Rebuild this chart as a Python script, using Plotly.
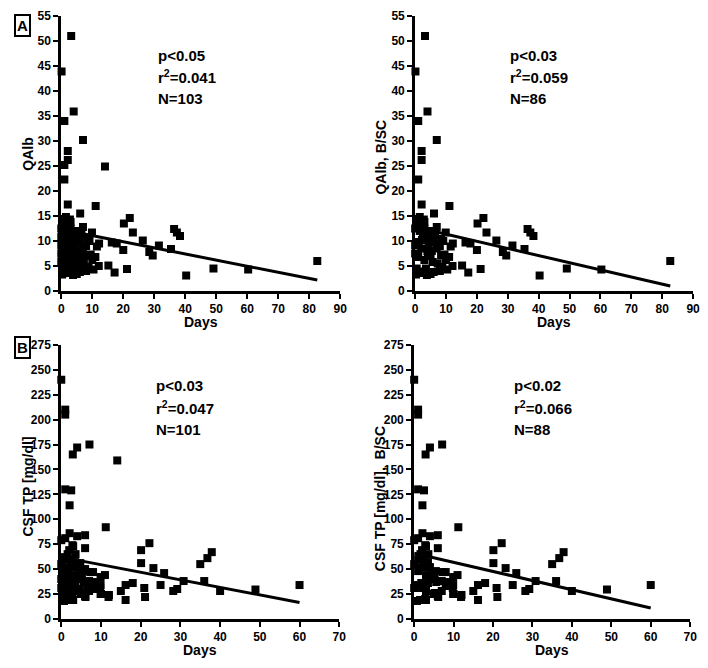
import plotly.graph_objects as go

# ---------------- DATA ----------------
# Panel A left: QAlb vs Days (N=103)
a1_days = [3.2, 0.1, 1, 4, 7, 2.1, 2.1, 1, 1, 14.1, 2.1, 11.1, 6.1, 0.3, 2, 3, 7, 20.2, 22.1, 23.1,
           26.3, 28.4, 29.5, 31.5, 35.4, 36.4, 37.3, 38.3, 40.3, 49.1, 60.3, 82.6, 12.2, 9.9, 8.4, 16.3, 17.9, 20, 15.2, 17.2,
           21.2, 12.1, 8.4, 10, 11, 8.8, 10.4, 5, 2.5, 1.5, 7.3, 5.7, 4.1, 5.4, 4.4, 1.5, 2.5, 9.1, 0, 0,
           0, 0, 0, 0.5, 0.5, 0.8, 1, 1, 1.2, 1.5, 1.5, 2, 2, 2.2, 2.5, 3, 3, 3, 3.5, 3.5,
           4, 4, 4.5, 5, 5, 5.5, 6, 6, 6.5, 7, 7.5, 8, 8, 6, 3.8, 0.3, 1.8, 2.8, 9.5, 11.5,
           1.2, 0.6, 3.2]
a1_qalb = [51, 43.9, 34, 35.9, 30.2, 28, 26.2, 25.2, 22.3, 24.9, 17.3, 17, 15.5, 14.4, 14.2, 13.8, 12.8, 13.5, 14.6, 11.7,
           10.1, 7.8, 7.1, 9.1, 8.4, 12.4, 11.7, 11, 3.1, 4.5, 4.3, 6, 9.5, 11.7, 10.4, 9.7, 9.5, 8.2, 5.1, 3.7,
           4.4, 5, 7.1, 6.2, 6.8, 4.8, 4.3, 3.4, 3.6, 3.9, 5.5, 5.8, 7.1, 8, 9.1, 12, 11, 10, 12.5, 10.8,
           9.2, 7.5, 5.8, 4.5, 8.5, 13.5, 11, 7, 9.8, 6, 14.8, 8.5, 5, 10.2, 7.5, 12.5, 6.2, 9.5, 4.5, 11.5,
           8, 5.5, 10.5, 7, 12, 4.2, 9.8, 6.5, 11.2, 8.5, 7, 4, 9, 3.8, 3.2, 3.3, 13, 14.3, 7.3, 8.9,
           4.8, 6.8, 8.8]

# Panel A right: QAlb, B/SC vs Days (N=86)
a2_days = [3.2, 0.1, 1, 4, 7, 2.1, 2.1, 1, 2.1, 11.1, 6.1, 0.3, 2, 3, 7, 20.2, 22.1, 23.1, 26.3, 28.4,
           29.5, 31.5, 35.4, 36.4, 37.3, 38.3, 40.3, 49.1, 60.3, 82.6, 12.2, 9.9, 8.4, 16.3, 17.9, 20, 15.2, 17.2, 21.2, 12.1,
           8.4, 10, 11, 8.8, 10.4, 5, 2.5, 1.5, 7.3, 5.7, 4.1, 5.4, 4.4, 1.5, 2.5, 9.1, 0, 0, 0, 0.5,
           0.8, 1, 1.2, 1.5, 2, 2.2, 3, 3, 3.5, 3.5, 4, 4.5, 5, 5, 6, 6.5, 7, 8, 8, 6,
           3.8, 0.3, 2.8, 9.5, 11.5, 0.6]
a2_qalb = [51, 43.9, 34, 35.9, 30.2, 28, 26.2, 22.3, 17.3, 17, 15.5, 14.4, 14.2, 13.8, 12.8, 13.5, 14.6, 11.7, 10.1, 7.8,
           7.1, 9.1, 8.4, 12.4, 11.7, 11, 3.1, 4.5, 4.3, 6, 9.5, 11.7, 10.4, 9.7, 9.5, 8.2, 5.1, 3.7, 4.4, 5,
           7.1, 6.2, 6.8, 4.8, 4.3, 3.4, 3.6, 3.9, 5.5, 5.8, 7.1, 8, 9.1, 12, 11, 10, 12.5, 9.2, 7.5, 4.5,
           13.5, 7, 9.8, 14.8, 8.5, 10.2, 12.5, 6.2, 4.5, 11.5, 8, 10.5, 7, 12, 9.8, 11.2, 8.5, 4, 9, 3.8,
           3.2, 3.3, 14.3, 7.3, 8.9, 6.8]

# Panel B left: CSF TP vs Days (N=101)
b1_days = [0, 1, 1, 2.9, 4, 7.1, 14.1, 1, 2.5, 2.1, 11.2, 0, 1, 2.1, 4, 6, 6, 3, 2, 20.1,
           22.2, 20.1, 23.2, 25.9, 25, 28.2, 29.2, 20.9, 21.1, 18, 16.2, 15, 16.2, 11, 12, 9.8, 10, 8.5, 8, 7.3,
           5.2, 5.6, 4, 4.4, 5.2, 6, 3, 1.5, 0.7, 0.7, 2, 0, 0, 1.5, 2.5, 3, 30.8, 35, 36.8, 37.9,
           36, 40, 48.9, 60, 2.8, 1.6, 3.6, 1, 0.3, 1.5, 8, 9.9, 7, 9.9, 9.9, 11.9, 4.9, 6.1, 2.8, 0.3,
           2.5, 0, 1, 2, 3.5, 4.5, 3.5, 6, 7, 2, 4, 1, 0.5, 2.5, 5.5, 8.8, 6.5, 3, 0.5, 1.8,
           4.8]
b1_tp = [240, 210, 205, 165, 172, 175, 159, 130, 129, 114, 92, 79, 81, 86, 83, 84, 71, 73, 69, 69,
         76, 56, 51, 46, 34, 28, 30, 31, 22, 36, 34, 28, 19, 44, 24, 31, 25, 37, 33, 47,
         44, 37, 52, 44, 26, 23, 19, 19, 18, 34, 31, 31, 55, 52, 52, 44, 38, 55, 61, 67,
         38, 28, 29.5, 34, 74, 65, 65, 60, 47, 45, 47, 42, 38, 34, 25, 22, 25, 22, 20, 28,
         35, 40, 38, 42, 36, 30, 57, 50, 28, 25, 40, 48, 62, 60, 48, 30, 33, 28, 23, 36,
         56]

# Panel B right: CSF TP, B/SC vs Days (N=88)
b2_days = [0, 1, 1, 2.9, 4, 7.1, 1, 2.5, 2.1, 11.2, 0, 1, 2.1, 4, 6, 6, 3, 2, 20.1, 22.2,
           20.1, 23.2, 25.9, 25, 28.2, 29.2, 20.9, 21.1, 18, 16.2, 15, 16.2, 11, 12, 9.8, 10, 8.5, 8, 7.3, 5.2,
           5.6, 4, 4.4, 5.2, 6, 3, 1.5, 0.7, 0.7, 2, 0, 0, 1.5, 2.5, 3, 30.8, 35, 36.8, 37.9, 36,
           40, 48.9, 60, 2.8, 1.6, 3.6, 1, 8, 9.9, 7, 9.9, 9.9, 11.9, 4.9, 6.1, 2.8, 2.5, 3.5,
           3.5, 7, 4, 1, 2.5, 5.5, 3, 1.8]
b2_tp = [240, 210, 205, 165, 172, 175, 130, 129, 114, 92, 79, 81, 86, 83, 84, 71, 73, 69, 69, 76,
         56, 51, 46, 34, 28, 30, 31, 22, 36, 34, 28, 19, 44, 24, 31, 25, 37, 33, 47, 44,
         37, 52, 44, 26, 23, 19, 19, 18, 34, 31, 31, 55, 52, 52, 44, 38, 55, 61, 67, 38,
         28, 29.5, 34, 74, 65, 65, 60, 47, 42, 38, 34, 25, 22, 25, 22, 20, 35, 36,
         57, 28, 40, 48, 60, 48, 28, 36]

# Regression lines (fitted endpoints)
a1_fit_x, a1_fit_y = [0, 82.6], [12.3, 2.2]
a2_fit_x, a2_fit_y = [0, 82.6], [12.8, 1.0]
b1_fit_x, b1_fit_y = [0, 60], [62, 16.5]
b2_fit_x, b2_fit_y = [0, 60], [66, 11]

# Axis tick labels
a_xticks = [0, 10, 20, 30, 40, 50, 60, 70, 80, 90]
a_yticks = [0, 5, 10, 15, 20, 25, 30, 35, 40, 45, 50, 55]
b_xticks = [0, 10, 20, 30, 40, 50, 60, 70]
b_yticks = [0, 25, 50, 75, 100, 125, 150, 175, 200, 225, 250, 275]

stats = [
    ("p<0.05", "r<sup>2</sup>=0.041", "N=103"),
    ("p<0.03", "r<sup>2</sup>=0.059", "N=86"),
    ("p<0.03", "r<sup>2</sup>=0.047", "N=101"),
    ("p<0.02", "r<sup>2</sup>=0.066", "N=88"),
]
ytitles = ["QAlb", "QAlb, B/SC", "CSF TP [mg/dl]", "CSF TP [mg/dl],  B/SC"]
xtitle = "Days"
panel_letters = ["A", "B"]

# ---------------- FIGURE ----------------
OFF = 8  # page body margin
W, H = 700, 660
FONT = "Liberation Sans, Arial, sans-serif"


def fx(px):
    return min(max((px - OFF) / W, 0.0), 1.0)


def fy(py):
    return min(max(1 - (py - OFF) / H, 0.0), 1.0)


fig = go.Figure()

panels = [
    (a1_days, a1_qalb, a1_fit_x, a1_fit_y, "x", "y"),
    (a2_days, a2_qalb, a2_fit_x, a2_fit_y, "x2", "y2"),
    (b1_days, b1_tp, b1_fit_x, b1_fit_y, "x3", "y3"),
    (b2_days, b2_tp, b2_fit_x, b2_fit_y, "x4", "y4"),
]
for xs, ys, lx, ly, xa, ya in panels:
    fig.add_trace(go.Scatter(x=xs, y=ys, mode="markers", xaxis=xa, yaxis=ya,
                             marker=dict(symbol="square", size=8, color="black", line=dict(width=0)),
                             cliponaxis=False, showlegend=False, hoverinfo="x+y"))
    fig.add_trace(go.Scatter(x=lx, y=ly, mode="lines", xaxis=xa, yaxis=ya,
                             line=dict(color="black", width=3), cliponaxis=False,
                             showlegend=False, hoverinfo="skip"))

# pixel geometry of the plot areas in the page: (left, right, top, bottom)
geo = [(59, 342, 9, 290), (418, 700, 9, 290), (59, 341, 345, 625), (417, 697, 345, 625)]
ticks = [(a_xticks, a_yticks), (a_xticks, a_yticks), (b_xticks, b_yticks), (b_xticks, b_yticks)]

axis_common = dict(showgrid=False, zeroline=False, showline=True, linecolor="black", linewidth=3,
                   ticks="outside", ticklen=5, tickwidth=2, tickcolor="black",
                   tickfont=dict(family=FONT, size=12, color="black"),
                   ticklabeloverflow="allow", fixedrange=True)

layout = {}
for i, ((l, r, t, b), (xt, yt)) in enumerate(zip(geo, ticks)):
    sx = "" if i == 0 else str(i + 1)
    layout["xaxis" + sx] = dict(axis_common, domain=[fx(l), fx(r)], range=[xt[0], xt[-1]],
                                tickvals=xt, ticktext=["<b>%g</b>" % v for v in xt],
                                anchor="y" + sx)
    layout["yaxis" + sx] = dict(axis_common, domain=[fy(b), fy(t)], range=[yt[0], yt[-1]],
                                tickvals=yt, ticktext=["<b>%g</b>" % v for v in yt],
                                anchor="x" + sx)

annotations = []
# stats text
stat_pos = [(155, 49), (512, 49), (153, 387), (516, 387)]
for (sx_, sy_), lines in zip(stat_pos, stats):
    for k, txt in enumerate(lines):
        annotations.append(dict(xref="paper", yref="paper", x=fx(sx_), y=fy(sy_ + 22 * k),
                                xanchor="left", yanchor="middle", text="<b>%s</b>" % txt, showarrow=False,
                                font=dict(family=FONT, size=15, color="black")))
# y titles
ytitle_pos = [(25, 150), (383, 153), (25, 490), (382, 502)]
for (tx, ty), txt in zip(ytitle_pos, ytitles):
    annotations.append(dict(xref="paper", yref="paper", x=fx(tx), y=fy(ty), textangle=-90,
                            xanchor="center", yanchor="middle", text="<b>%s</b>" % txt, showarrow=False,
                            font=dict(family=FONT, size=14, color="black")))
# x titles
for (l, r, t, b) in geo:
    annotations.append(dict(xref="paper", yref="paper", x=fx((l + r) / 2), y=fy(b + 32),
                            xanchor="center", yanchor="middle", text="<b>%s</b>" % xtitle, showarrow=False,
                            font=dict(family=FONT, size=14, color="black")))
# panel letters
for (px_, py_), txt in zip([(20, 19), (20, 348)], panel_letters):
    annotations.append(dict(xref="paper", yref="paper", x=fx(px_), y=fy(py_), xanchor="center",
                            yanchor="middle", text="<b>%s</b>" % txt, showarrow=False, bordercolor="black",
                            borderwidth=2, borderpad=1,
                            font=dict(family=FONT, size=15, color="black")))

fig.update_layout(width=W, height=H, margin=dict(l=0, r=0, t=0, b=0), plot_bgcolor="white",
                  paper_bgcolor="white", annotations=annotations, showlegend=False, **layout)

fig.write_html("out.html")
